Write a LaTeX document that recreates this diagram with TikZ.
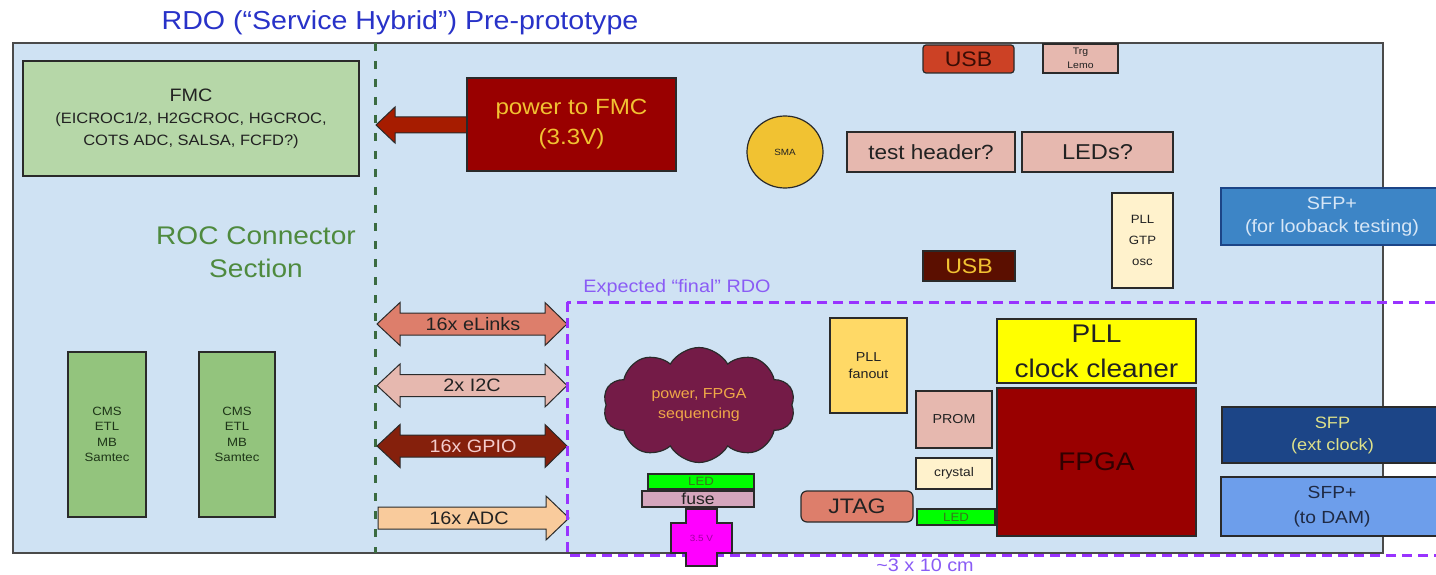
\documentclass[tikz,border=0pt]{standalone}
\usepackage{fontspec}
\setmainfont[FakeStretch=1.1]{Liberation Sans}
\usetikzlibrary{shapes.geometric,shapes.symbols}
\newcommand\fsz[2]{\fontsize{#1}{#2}\selectfont}
\definecolor{boardc}{HTML}{CFE2F3}
\definecolor{edgec}{HTML}{2A2A2A}
\definecolor{txtc}{HTML}{222222}
\definecolor{titlec}{RGB}{40,50,200}
\definecolor{greendash}{HTML}{3A6B40}
\definecolor{fmcc}{HTML}{B6D7A8}
\definecolor{cmsc}{HTML}{93C47D}
\definecolor{cmstxt}{HTML}{1E3518}
\definecolor{rocc}{HTML}{4E8A3E}
\definecolor{darkred}{HTML}{990000}
\definecolor{pwrarrow}{HTML}{A61C00}
\definecolor{goldtxt}{HTML}{F1C232}
\definecolor{usbtop}{HTML}{CC4125}
\definecolor{usbtoptxt}{HTML}{3A0D05}
\definecolor{salmonl}{HTML}{E6B8AF}
\definecolor{elinkc}{HTML}{DD7E6B}
\definecolor{gpioc}{HTML}{85200C}
\definecolor{gpiotxt}{HTML}{F4CCCC}
\definecolor{adcc}{HTML}{F9CB9C}
\definecolor{smac}{HTML}{F1C232}
\definecolor{creamc}{HTML}{FFF2CC}
\definecolor{usbmid}{HTML}{5B0F00}
\definecolor{sfploop}{HTML}{3D85C6}
\definecolor{sfplooptxt}{HTML}{D6E6F6}
\definecolor{purpled}{RGB}{153,51,255}
\definecolor{purplet}{RGB}{138,92,245}
\definecolor{cloudc}{HTML}{741B47}
\definecolor{cloudtxt}{HTML}{F0A848}
\definecolor{ledc}{HTML}{00FF00}
\definecolor{ledtxt}{HTML}{38761D}
\definecolor{fusec}{HTML}{D5A6BD}
\definecolor{crossc}{HTML}{FF00FF}
\definecolor{crosstxt}{HTML}{A000A0}
\definecolor{fanoutc}{HTML}{FFD966}
\definecolor{cleanerc}{HTML}{FFFF00}
\definecolor{fpgatxt}{HTML}{300000}
\definecolor{sfpext}{HTML}{1C4587}
\definecolor{sfpexttxt}{HTML}{DFE28A}
\definecolor{sfpdam}{HTML}{6D9EEB}
\definecolor{sfpdamtxt}{HTML}{1F2A44}
\newcommand\DArr[2]{%
  \filldraw[blockarrow, fill=#2] (377,#1) -- (400,#1-21.5) -- (400,#1-11) -- (545,#1-11)
    -- (545,#1-21.5) -- (567,#1) -- (545,#1+21.5) -- (545,#1+11) -- (400,#1+11)
    -- (400,#1+21.5) -- cycle;}
\begin{document}
\begin{tikzpicture}[x=1pt,y=-1pt,
  bx/.style={draw=edgec, line width=1.2pt, inner sep=0pt, align=center, text=txtc},
  blockarrow/.style={draw=edgec, line width=1pt, line join=miter},
  lbl/.style={inner sep=0pt, align=center, text=txtc}]
\useasboundingbox (0,0) rectangle (1436,575);
\clip (0,0) rectangle (1436,575);
\fill[white] (0,0) rectangle (1436,575);

% title
\node[lbl, anchor=base, text=titlec, font=\fsz{26}{30}] (title) at (400,30) {RDO (“Service Hybrid”) Pre-prototype};

% board
\node[draw=edgec!85, line width=1.5pt, fill=boardc, minimum width=1370, minimum height=510, inner sep=0pt] (board) at (698,298) {};

% green dashed divider
\coordinate (gtop) at (375,43);
\coordinate (gbot) at (375,553);
\draw[greendash, line width=3pt, dash pattern=on 8pt off 10pt] (gtop) -- (gbot);

% FMC
\node[bx, fill=fmcc, minimum width=336, minimum height=115, font=\fsz{15}{22}] (fmc) at (191,118.5)
  {{\fsz{18}{22}FMC}\\(EICROC1/2, H2GCROC, HGCROC,\\COTS ADC, SALSA, FCFD?)};

% ROC connector section
\node[lbl, text=rocc, font=\fsz{25.5}{33}] (roc) at (256,252.5) {ROC Connector\\Section};

% CMS connectors
\node[bx, fill=cmsc, text=cmstxt, minimum width=78, minimum height=165, font=\fsz{12}{15.3}] (cms1) at (107,434.5) {CMS\\ETL\\MB\\Samtec};
\node[bx, fill=cmsc, text=cmstxt, minimum width=76, minimum height=165, font=\fsz{12}{15.3}] (cms2) at (237,434.5) {CMS\\ETL\\MB\\Samtec};

% power arrow to FMC
\filldraw[blockarrow, fill=pwrarrow] (470,117) -- (395,117) -- (395,107) -- (376,125) -- (395,143) -- (395,133) -- (470,133) -- cycle;
\node[bx, fill=darkred, text=goldtxt, minimum width=209, minimum height=93, font=\fsz{22}{30}] (pwr) at (571.5,124.5) {power to FMC\\(3.3V)};

% interface arrows
\DArr{324}{elinkc}
\node[lbl, font=\fsz{18}{22}] (elinks) at (473,324) {16x eLinks};
\DArr{385.5}{salmonl}
\node[lbl, font=\fsz{18}{22}] (i2c) at (472,385.5) {2x I2C};
\DArr{446}{gpioc}
\node[lbl, text=gpiotxt, font=\fsz{18}{22}] (gpio) at (473,446) {16x GPIO};
\filldraw[blockarrow, fill=adcc] (378,507) -- (546,507) -- (546,496) -- (569,518) -- (546,540) -- (546,529) -- (378,529) -- cycle;
\node[lbl, font=\fsz{18}{22}] (adc) at (469,518) {16x ADC};

% top area parts
\node[bx, fill=usbtop, text=usbtoptxt, rounded corners=3pt, minimum width=91, minimum height=28, font=\fsz{21}{24}] (usb1) at (968.5,59) {USB};
\node[bx, fill=salmonl, minimum width=75, minimum height=29, font=\fsz{9.5}{13.5}] (trg) at (1080.5,58.5) {Trg\\Lemo};
\node[bx, ellipse, fill=smac, minimum width=76, minimum height=72, font=\fsz{9}{10}] (sma) at (785,152) {SMA};
\node[bx, fill=salmonl, minimum width=168, minimum height=40, font=\fsz{20.5}{24}] (hdr) at (931,152) {test header?};
\node[bx, fill=salmonl, minimum width=151, minimum height=40, font=\fsz{21.5}{24}] (leds) at (1097.5,152) {LEDs?};
\node[bx, fill=creamc, minimum width=61, minimum height=95, font=\fsz{12}{21}] (gtp) at (1142.5,240.5) {PLL\\GTP\\osc};
\node[bx, fill=usbmid, text=goldtxt, minimum width=92, minimum height=30, font=\fsz{21}{24}] (usb2) at (969,266) {USB};
\node[bx, draw=sfpext, fill=sfploop, text=sfplooptxt, minimum width=222, minimum height=57, font=\fsz{18}{23}] (sfploop) at (1332,216.5) {SFP+\\(for looback testing)};

% expected final RDO region
\node[lbl, text=purplet, font=\fsz{18}{22}] (explbl) at (677,288) {Expected “final” RDO};
\draw[purpled, line width=3pt, dash pattern=on 10pt off 6pt] (567,302) rectangle (1460,555);

% final RDO parts
\node[cloud, cloud puffs=10, cloud puff arc=120, aspect=1.67, draw=edgec, line width=1.2pt, fill=cloudc, text=cloudtxt,
  minimum width=192, minimum height=115, inner sep=0pt, align=center, font=\fsz{14.5}{20}] (cloud) at (699,405) {power, FPGA\\sequencing};
\node[bx, fill=ledc, text=ledtxt, minimum width=106, minimum height=15, font=\fsz{12}{12}] (led1) at (701,481.5) {LED};
\node[bx, fill=fusec, minimum width=112, minimum height=16, font=\fsz{16}{16}] (fuse) at (698,499) {fuse};
\filldraw[draw=edgec, line width=1.2pt, fill=crossc] (686,509) -- (717,509) -- (717,523) -- (732,523) -- (732,553) -- (717,553)
  -- (717,566) -- (686,566) -- (686,553) -- (671,553) -- (671,523) -- (686,523) -- cycle;
\node[lbl, text=crosstxt, font=\fsz{9}{10}] (v35) at (701.5,538) {3.5 V};
\node[bx, fill=fanoutc, line width=2.5pt, minimum width=77, minimum height=95, font=\fsz{13}{17}] (fanout) at (868.5,365.5) {PLL\\fanout};
\node[bx, fill=salmonl, minimum width=76, minimum height=57, font=\fsz{13}{16}] (prom) at (954,419.5) {PROM};
\node[bx, fill=creamc, minimum width=76, minimum height=31, font=\fsz{12.5}{16}] (crystal) at (954,473.5) {crystal};
\node[bx, fill=elinkc, rounded corners=6pt, minimum width=112, minimum height=31, font=\fsz{21}{24}] (jtag) at (857,506.5) {JTAG};
\node[bx, fill=ledc, text=ledtxt, minimum width=78, minimum height=16, font=\fsz{12}{12}] (led2) at (956,517) {LED};
\node[bx, fill=cleanerc, minimum width=199, minimum height=64, font=\fsz{25.5}{35}] (cleaner) at (1096.5,351) {PLL\\clock cleaner};
\node[bx, fill=darkred, text=fpgatxt, minimum width=199, minimum height=148, font=\fsz{25.5}{30}] (fpga) at (1096.5,462) {FPGA};
\node[bx, fill=sfpext, text=sfpexttxt, minimum width=221, minimum height=56, font=\fsz{16.5}{22}] (sfpext) at (1332.5,435) {SFP\\(ext clock)};
\node[bx, fill=sfpdam, text=sfpdamtxt, minimum width=222, minimum height=59, font=\fsz{17.5}{25}] (sfpdam) at (1332,506.5) {SFP+\\(to DAM)};

% size label
\node[lbl, text=purplet, font=\fsz{18}{22}] (size) at (925,565) {\textasciitilde 3 x 10 cm};
\end{tikzpicture}
\end{document}
